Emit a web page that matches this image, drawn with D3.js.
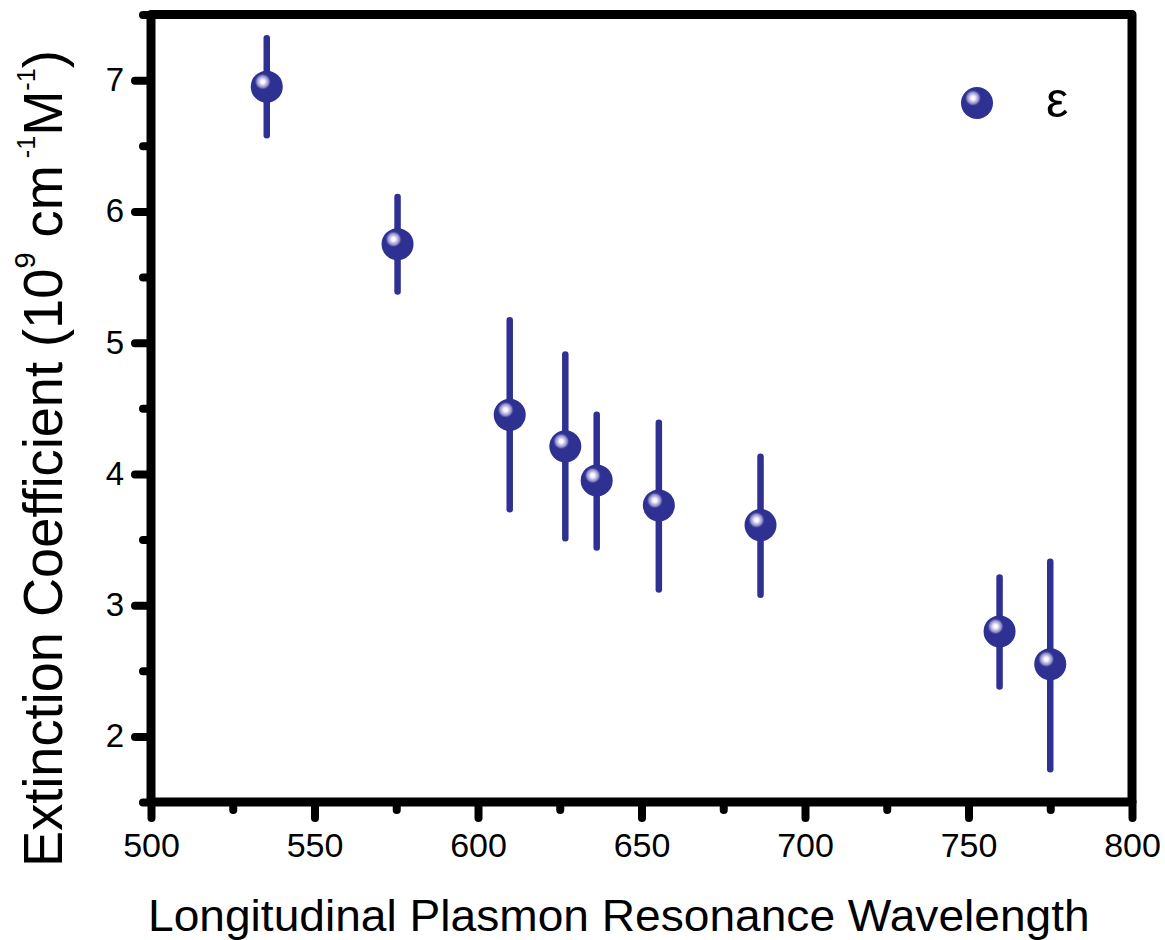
<!DOCTYPE html>
<html>
<head>
<meta charset="utf-8">
<script src="https://cdn.jsdelivr.net/npm/d3@7"></script>
<style>
  body { margin: 0; background: #fff; }
  svg { display: block; font-family: "Liberation Sans", Arial, Helvetica, sans-serif; }
</style>
</head>
<body>
<svg class="chart"></svg>
<script>
// values
const wavelength = [535.4, 575.4, 609.7, 626.7, 636.3, 655.3, 686.4, 759.5, 775.0];
const epsilon    = [6.95, 5.75, 4.45, 4.21, 3.95, 3.76, 3.61, 2.80, 2.55];
const errLower   = [6.58, 5.39, 3.73, 3.51, 3.44, 3.12, 3.08, 2.38, 1.75];
const errUpper   = [7.32, 6.11, 5.17, 4.91, 4.45, 4.39, 4.13, 3.21, 3.33];

const xTicks = [500, 550, 600, 650, 700, 750, 800];
const xMinorTicks = [525, 575, 625, 675, 725, 775];
const yTicks = [2, 3, 4, 5, 6, 7];
const yMinorTicks = [1.5, 2.5, 3.5, 4.5, 5.5, 6.5, 7.5];

const legendLabel = "\u03b5";
const xTitle = "Longitudinal Plasmon Resonance Wavelength";

const mainWidth = 1165;
const mainHeight = 940;
const margin = { top: 14.5, right: 33, bottom: 138, left: 151 };
const width = mainWidth - margin.left - margin.right;
const height = mainHeight - margin.top - margin.bottom;
const navy = "#2e3192";

const svg = d3.select(".chart")
  .attr("width", mainWidth)
  .attr("height", mainHeight);

// highlight for the sphere markers
const grad = svg.append("defs").append("radialGradient")
  .attr("id", "shine");
grad.append("stop").attr("offset", "0%").attr("stop-color", "#ffffff");
grad.append("stop").attr("offset", "22%").attr("stop-color", "#f7f7fc");
grad.append("stop").attr("offset", "45%").attr("stop-color", "#c4c2e5");
grad.append("stop").attr("offset", "72%").attr("stop-color", "#8583c2");
grad.append("stop").attr("offset", "100%").attr("stop-color", navy).attr("stop-opacity", 0);

const chart = svg.append("g")
  .attr("transform", `translate(${margin.left}, ${margin.top})`);

const xScale = d3.scaleLinear().domain([500, 800]).range([0, width]);
const yScale = d3.scaleLinear().domain([1.5, 7.5]).range([height, 0]);

function styleAxis(g, fontSize) {
  g.select(".domain").remove();
  g.selectAll(".tick line")
    .attr("stroke", "#000")
    .attr("stroke-width", 8)
    .attr("stroke-linecap", "round");
  g.selectAll(".tick text")
    .attr("fill", "#000")
    .style("font-size", fontSize + "px")
    .style("font-family", "'Liberation Sans', Arial, Helvetica, sans-serif");
}

// minor ticks first, majors on top
chart.append("g")
  .attr("transform", `translate(0, ${height})`)
  .call(d3.axisBottom(xScale).tickValues(xMinorTicks).tickSize(8).tickFormat(""))
  .call(g => styleAxis(g, 34));

chart.append("g")
  .attr("transform", `translate(0, ${height})`)
  .call(d3.axisBottom(xScale).tickValues(xTicks).tickSize(16).tickPadding(15).tickFormat(d3.format("d")))
  .call(g => styleAxis(g, 34));

chart.append("g")
  .call(d3.axisLeft(yScale).tickValues(yMinorTicks).tickSize(8).tickFormat(""))
  .call(g => styleAxis(g, 33));

chart.append("g")
  .call(d3.axisLeft(yScale).tickValues(yTicks).tickSize(16).tickPadding(11).tickFormat(d3.format("d")))
  .call(g => styleAxis(g, 33));

// frame
chart.append("rect")
  .attr("x", 0)
  .attr("y", 0)
  .attr("width", width)
  .attr("height", height)
  .attr("fill", "none")
  .attr("stroke", "#000")
  .attr("stroke-width", 9)
  .attr("stroke-linejoin", "round");

const data = wavelength.map((w, i) => ({
  w: w, e: epsilon[i], lo: errLower[i], hi: errUpper[i]
}));

function sphere(g, cx, cy) {
  g.append("circle")
    .attr("cx", cx).attr("cy", cy).attr("r", 16)
    .attr("fill", navy);
  g.append("circle")
    .attr("cx", cx - 4).attr("cy", cy - 5).attr("r", 8.5)
    .attr("fill", "url(#shine)");
}

const point = chart.selectAll(".point")
  .data(data)
  .enter()
  .append("g")
  .attr("class", "point");

point.append("line")
  .attr("x1", d => xScale(d.w))
  .attr("x2", d => xScale(d.w))
  .attr("y1", d => yScale(d.lo))
  .attr("y2", d => yScale(d.hi))
  .attr("stroke", navy)
  .attr("stroke-width", 6.5)
  .attr("stroke-linecap", "round");

point.each(function (d) {
  sphere(d3.select(this), xScale(d.w), yScale(d.e));
});

// legend
const legend = svg.append("g");
sphere(legend, 977, 103);
legend.append("text")
  .attr("x", 1046)
  .attr("y", 117)
  .style("font-size", "50px")
  .text(legendLabel);

// stretch/squeeze a text so it spans the given length
function fitWidth(text, length, tx, ty, rot) {
  const w = text.node().getBBox().width;
  text.attr("transform", `translate(${tx}, ${ty}) rotate(${rot}) scale(${length / w}, 1)`);
}

const xt = svg.append("text")
  .attr("x", 0)
  .attr("y", 0)
  .style("font-size", "44px")
  .text(xTitle);
fitWidth(xt, 942, 148, 931, 0);

const yt = svg.append("text")
  .attr("x", 0)
  .attr("y", 0)
  .style("font-size", "56px");
yt.append("tspan").text("Extinction Coefficient (10");
yt.append("tspan").attr("dy", -27).style("font-size", "30px").text("9");
yt.append("tspan").attr("dy", 27).text(" cm");
yt.append("tspan").attr("dy", -27).style("font-size", "26px").text(" -1");
yt.append("tspan").attr("dy", 27).text("M");
yt.append("tspan").attr("dy", -27).style("font-size", "26px").text("-1");
yt.append("tspan").attr("dy", 27).text(")");
fitWidth(yt, 817, 62, 867, -90);
</script>
</body>
</html>
